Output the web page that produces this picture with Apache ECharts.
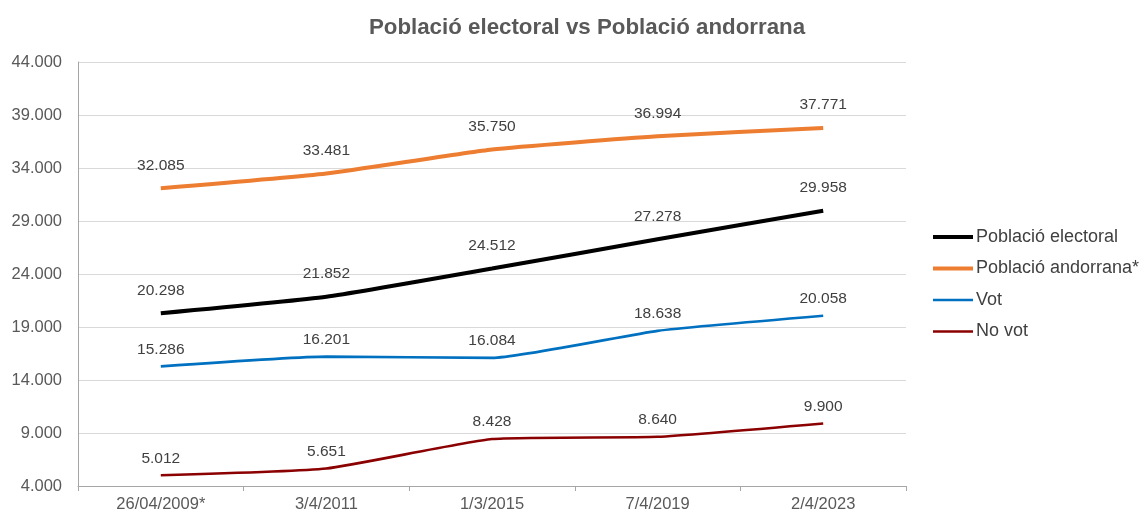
<!DOCTYPE html>
<html>
<head>
<meta charset="utf-8">
<script src="https://cdn.jsdelivr.net/npm/echarts@6/dist/echarts.min.js"></script>
<style>
  html, body { margin: 0; padding: 0; background: #fff; }
  #chart { width: 1145px; height: 514px; }
</style>
</head>
<body>
<div id="chart"></div>
<script>
const categories = ['26/04/2009*', '3/4/2011', '1/3/2015', '7/4/2019', '2/4/2023'];
const electoral = [20298, 21852, 24512, 27278, 29958];
const andorrana = [32085, 33481, 35750, 36994, 37771];
const vot = [15286, 16201, 16084, 18638, 20058];
const noVot = [5012, 5651, 8428, 8640, 9900];

// 12345 -> "12.345"
const fmt = (v) => String(Math.round(v)).replace(/\B(?=(\d{3})+(?!\d))/g, '.');

const FONT = 'Liberation Sans, Arial, sans-serif';
const chart = echarts.init(document.getElementById('chart'));

// thick lines sit their labels a bit higher, like in the original
const mkSeries = (name, data, color, width, labelGap) => ({
  name,
  type: 'line',
  data,
  smooth: 0.15,
  symbol: 'circle',
  symbolSize: 0,
  showSymbol: true,
  lineStyle: { color, width },
  itemStyle: { color },
  label: {
    show: true,
    position: 'top',
    distance: labelGap,
    color: '#404040',
    fontSize: 15.5,
    fontFamily: FONT,
    formatter: (p) => fmt(p.value),
  },
});

const legendItem = (name, width) => ({
  name,
  itemStyle: { opacity: 0 },
  lineStyle: { width },
});

chart.setOption({
  backgroundColor: '#fff',
  animation: false,
  title: {
    text: 'Població electoral vs Població andorrana',
    left: 582,
    top: 12,
    textAlign: 'center',
    textStyle: {
      color: '#595959',
      fontSize: 22.3,
      fontWeight: 'bold',
      fontFamily: FONT,
    },
  },
  legend: {
    orient: 'vertical',
    left: 926,
    top: 223,
    itemWidth: 40,
    itemHeight: 18,
    itemGap: 13.5,
    textStyle: {
      color: '#404040',
      fontSize: 18,
      fontFamily: FONT,
      padding: [0, 0, 0, -2],
    },
    data: [
      legendItem('Població electoral', 4),
      legendItem('Població andorrana*', 4),
      legendItem('Vot', 2.5),
      legendItem('No vot', 2.5),
    ],
  },
  grid: { left: 78, right: 239, top: 62, bottom: 28, containLabel: false },
  xAxis: {
    type: 'category',
    data: categories,
    boundaryGap: true,
    axisLine: { lineStyle: { color: '#a6a6a6', width: 1 } },
    axisTick: { show: true, length: 5, lineStyle: { color: '#a6a6a6' } },
    axisLabel: {
      color: '#595959',
      fontSize: 16.5,
      margin: 10,
      fontFamily: FONT,
    },
  },
  yAxis: {
    type: 'value',
    min: 4000,
    max: 44000,
    interval: 5000,
    axisLine: { show: true, lineStyle: { color: '#a6a6a6' } },
    axisTick: { show: false },
    splitLine: { lineStyle: { color: '#d9d9d9' } },
    axisLabel: {
      color: '#595959',
      fontSize: 16.5,
      margin: 16,
      fontFamily: FONT,
      formatter: fmt,
    },
  },
  series: [
    mkSeries('Població electoral', electoral, '#000000', 4, 15),
    mkSeries('Població andorrana*', andorrana, '#ED7D31', 4, 15),
    mkSeries('Vot', vot, '#0070C0', 2.6, 9),
    mkSeries('No vot', noVot, '#8B0000', 2.6, 9),
  ],
});

window.addEventListener('resize', () => chart.resize());
</script>
</body>
</html>
